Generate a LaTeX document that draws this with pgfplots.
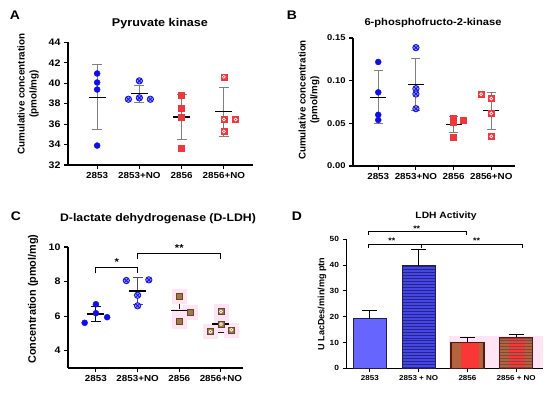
\documentclass[border=0pt]{standalone}
\usepackage{fontspec}
\setmainfont{Liberation Sans}[FakeStretch=1.12]
\newfontfamily\rotfont{Liberation Sans}
\usepackage{pgfplots}
\pgfplotsset{compat=1.18}
\usetikzlibrary{patterns}
\definecolor{cblue}{RGB}{15,15,230}
\definecolor{cbluel}{RGB}{150,150,255}
\definecolor{cred}{RGB}{240,55,60}
\definecolor{cbrown}{RGB}{160,120,75}
\definecolor{cbrownd}{RGB}{100,70,40}
\definecolor{cpink}{RGB}{255,228,246}
\definecolor{dbar1}{RGB}{102,102,255}
\definecolor{dbar2}{RGB}{70,70,225}
\definecolor{dbar2l}{RGB}{35,35,150}
\definecolor{dedge}{RGB}{30,30,80}
\definecolor{dbrown}{RGB}{178,100,60}
\definecolor{dred}{RGB}{250,55,55}
\definecolor{dredge}{RGB}{90,25,15}
\newcommand{\fs}[1]{\fontsize{#1}{#1}\selectfont\bfseries}
\pgfplotsset{
  panel/.style={scale only axis, anchor=south west,
    axis x line*=bottom, axis y line*=left,
    axis line style={line width=1.1bp, black},
    tick style={line width=1.1bp, black},
    major tick length=4bp, tick align=outside,
    xtick={0,1,2,3}, minor tick num=0, clip=false,
    /pgf/number format/assume math mode=true},
  meansd/.style n args={4}{only marks, mark=-, mark size=#1,
    mark options={#3, line width=1.3bp},
    error bars/.cd, y dir=both, y explicit, error mark=|,
    error bar style={#4, line width=1bp},
    error mark options={#4, line width=1bp, mark size=#2}},
  dot/.style={only marks, mark=*, mark size=3bp, mark options={draw=cblue, fill=cblue}},
  otim/.style={only marks, mark=otimes*, mark size=3.2bp, mark options={draw=cblue, fill=cbluel, line width=0.8bp}},
  rsq/.style={only marks, mark=square*, mark size=3bp, mark options={draw=cred, fill=cred}},
  rsqw/.style={only marks, mark=o, mark size=1.5bp, mark options={draw=white, line width=0.7bp}},
  barerr/.style={error bars/.cd, y dir=plus, y explicit, error mark=|,
    error bar style={black, line width=1.1bp},
    error mark options={black, line width=1.1bp, mark size=7.5bp}},
}
\begin{document}
\begin{tikzpicture}[x=1bp,y=1bp]
\useasboundingbox (0,0) rectangle (550,392);
% ---------------- Panel A
\begin{axis}[panel, at={(68bp,227bp)}, width=185bp, height=122.7bp,
  xmin=-0.69, xmax=3.69, ymin=32, ymax=44, ytick={32,34,...,44},
  xticklabels={2853,2853+NO,2856,2856+NO},
  yticklabel style={font=\fs{9.5}}, xticklabel style={font=\fs{8.8}}]
\addplot[meansd={8.5bp}{5bp}{black}{gray}] table[x=x,y=y,y error plus=ep,y error minus=em]{
x y ep em
0 38.57 3.23 3.10
1 38.96 0.78 0.88
2 36.68 2.22 2.22
3 37.20 2.34 2.38
};
\addplot[dot] coordinates {(0,40.95) (0,40.07) (0,39.38) (0,33.9)};
\addplot[otim] coordinates {(0.74,38.43) (1,40.23) (1,38.57) (1.26,38.43)};
\addplot[rsq] coordinates {(2,38.8) (2,37.59) (2,36.68) (2,33.6)};
\addplot[rsq] coordinates {(3,40.62) (3,36.45) (3.28,36.45) (3,35.28)};
\addplot[rsqw] coordinates {(3,40.62) (3,36.45) (3.28,36.45) (3,35.28)};
\end{axis}
% ---------------- Panel B
\begin{axis}[panel, at={(353bp,226bp)}, width=162bp, height=128bp,
  xmin=-0.67, xmax=3.63, ymin=0, ymax=0.15, ytick={0,0.05,0.1,0.15},
  yticklabel style={font=\fs{8.4}, /pgf/number format/.cd, fixed, fixed zerofill, precision=2},
  xticklabels={2853,2853+NO,2856,2856+NO}, xticklabel style={font=\fs{8.8}}]
\addplot[meansd={8bp}{4.5bp}{black}{gray}] table[x=x,y=y,y error plus=ep,y error minus=em]{
x y ep em
0 0.0805 0.0312 0.0305
1 0.0957 0.0301 0.0301
2 0.0485 0.0095 0.0094
3 0.0648 0.0219 0.0218
};
\addplot[dot] coordinates {(0,0.1219) (0,0.0863) (0,0.0600) (0,0.0539)};
\addplot[otim] coordinates {(1,0.1387) (1,0.0906) (1,0.0844) (1,0.0672)};
\addplot[rsq] coordinates {(2,0.0562) (2,0.0508) (2,0.0336) (2.26,0.0535)};
\addplot[rsq] coordinates {(2.73,0.0840) (3,0.0789) (3,0.0617) (3,0.0348)};
\addplot[rsqw] coordinates {(2.73,0.0840) (3,0.0789) (3,0.0617) (3,0.0348)};
\end{axis}
% ---------------- Panel C
\begin{axis}[panel, at={(68bp,24bp)}, width=175bp, height=121bp,
  xmin=-0.67, xmax=3.53, ymin=3, ymax=10, ytick={4,6,8,10},
  yticklabel style={font=\fs{9.5}},
  xticklabels={2853,2853+NO,2856,2856+NO}, xticklabel style={font=\fs{8.8}}]
\addplot[only marks, color=cpink, mark=square*, mark size=7bp, mark options={draw=cpink, fill=cpink}]
  coordinates {(2,7.13) (2,6.0) (2,5.69) (2.26,6.21) (3,6.27) (3,5.54) (2.75,5.11) (3.25,5.21)};
\fill[red!80] (1.93,5.72) rectangle (2.07,6.31);
\addplot[meansd={8.5bp}{5bp}{black}{blue!40!black}] coordinates {(0,6.12) +- (0,0.44)};
\addplot[meansd={8.5bp}{5bp}{black}{black!70}] coordinates {(1,7.46) +- (0,0.77)};
\addplot[meansd={8.5bp}{5bp}{black}{red!40!black}] table[x=x,y=y,y error plus=ep,y error minus=em]{
x y ep em
2 6.31 0.53 0.62
};
\addplot[meansd={8.5bp}{5bp}{black}{red!40!black}] table[x=x,y=y,y error plus=ep,y error minus=em]{
x y ep em
3 5.55 0.45 0.50
};
\addplot[dot] coordinates {(-0.27,5.615) (0,6.69) (0,6.17) (0.27,5.94)};
\addplot[otim] coordinates {(0.73,8.06) (1,7.21) (1,6.6) (1.27,8.1)};
\addplot[only marks, mark=square*, mark size=3bp, mark options={draw=cbrownd, fill=cbrown}]
  coordinates {(2,7.13) (2,5.69) (2.26,6.21)};
\addplot[only marks, mark=square*, mark size=3bp, mark options={draw=cbrownd, fill=cbrown}]
  coordinates {(3,6.27) (3,5.54) (2.75,5.11) (3.25,5.21)};
\addplot[rsqw] coordinates {(3,6.27) (3,5.54) (2.75,5.11) (3.25,5.21)};
\draw[line width=1bp] (0,8.48) -- (0,8.81) -- (1,8.81) -- (1,8.48);
\draw[line width=1bp] (1,9.3) -- (1,9.63) -- (3,9.63) -- (3,9.3);
\node[font=\fs{10}] at (0.5,9.1) {*};
\node[font=\fs{10}] at (2.0,9.95) {**};
\end{axis}
% ---------------- Panel D
\begin{axis}[panel, at={(346.5bp,23.7bp)}, width=196.5bp, height=129bp,
  xmin=-0.48, xmax=3.55, ymin=0, ymax=50, ytick={0,10,...,50},
  yticklabel style={font=\fs{7.5}},
  xticklabels={2853,2853 + NO,2856,2856 + NO}, xticklabel style={font=\fs{7.2}}]
\addplot[fill=cpink, draw=none] coordinates {(1.62,0) (1.62,12.5) (3.55,12.5) (3.55,0)} --cycle;
% 2853
\addplot[ybar, bar width=33bp, bar shift=0pt, fill=dbar1, draw=dedge, line width=1.2bp, barerr]
  coordinates {(0,19.3) +- (0,3.0)};
% 2853+NO
\addplot[ybar, bar width=33bp, bar shift=0pt, fill=dbar2, draw=none] coordinates {(1,39.7)};
\addplot[ybar, bar width=33bp, bar shift=0pt, pattern=horizontal lines, pattern color=dbar2l, draw=none] coordinates {(1,39.7)};
\addplot[ybar, bar width=33bp, bar shift=0pt, fill=none, draw=dedge, line width=1.2bp, barerr]
  coordinates {(1,39.7) +- (0,6.3)};
% 2856
\addplot[ybar, bar width=33bp, bar shift=0pt, fill=dbrown, draw=none] coordinates {(2,10.1)};
\addplot[ybar, bar width=18bp, bar shift=2.5bp, fill=dred, draw=none] coordinates {(2,10.1)};
\addplot[ybar, bar width=33bp, bar shift=0pt, fill=none, draw=dredge, line width=1.2bp, barerr]
  coordinates {(2,10.1) +- (0,1.8)};
% 2856+NO
\addplot[ybar, bar width=33bp, bar shift=0pt, fill=dbrown, draw=none] coordinates {(3,12.0)};
\addplot[ybar, bar width=16bp, bar shift=1bp, fill=dred, draw=none] coordinates {(3,12.0)};
\addplot[ybar, bar width=33bp, bar shift=0pt, pattern=horizontal lines, pattern color=dredge!80, draw=none] coordinates {(3,12.0)};
\addplot[ybar, bar width=33bp, bar shift=0pt, fill=none, draw=dredge, line width=1.2bp, barerr]
  coordinates {(3,12.0) +- (0,1.2)};
% brackets
\draw[line width=1bp] (-0.03,51.6) -- (-0.03,53) -- (1.99,53) -- (1.99,51.6);
\draw[line width=1bp] (-0.03,46.8) -- (-0.03,48.06) -- (1.06,48.06) -- (1.06,46.8);
\draw[line width=1bp] (1.06,48.06) -- (3.13,48.06) -- (3.13,46.8);
\node[font=\fs{8}] at (0.96,54.2) {**};
\node[font=\fs{8}] at (0.45,49.3) {**};
\node[font=\fs{8}] at (2.19,49.3) {**};
\end{axis}
% ---------------- texts
\node[font=\fs{12.5}] at (15,377) {A};
\node[font=\fs{12.5}] at (292,377) {B};
\node[font=\fs{12.5}] at (16,176) {C};
\node[font=\fs{12.5}] at (297,176) {D};
\node[font=\fs{11.3}] at (160,368) {Pyruvate kinase};
\node[font=\fs{10}] at (433,369) {6-phosphofructo-2-kinase};
\node[font=\fs{11}] at (158,173.3) {D-lactate dehydrogenase (D-LDH)};
\node[font=\fs{9.2}] at (446,176) {LDH Activity};
\node[font=\rotfont\bfseries\fontsize{9.9}{12}\selectfont, rotate=90, align=center] at (28,298) {Cumulative concentration\\(pmol/mg)};
\node[font=\rotfont\bfseries\fontsize{9.8}{12}\selectfont, rotate=90, align=center] at (309,292) {Cumulative concentration\\(pmol/mg)};
\node[font=\rotfont\bfseries\fontsize{10.9}{12}\selectfont, rotate=90] at (33,93) {Concentration (pmol/mg)};
\node[font=\rotfont\bfseries\fontsize{9.1}{12}\selectfont, rotate=90] at (322,88) {U LacDes/min/mg ptn};
\end{tikzpicture}
\end{document}
